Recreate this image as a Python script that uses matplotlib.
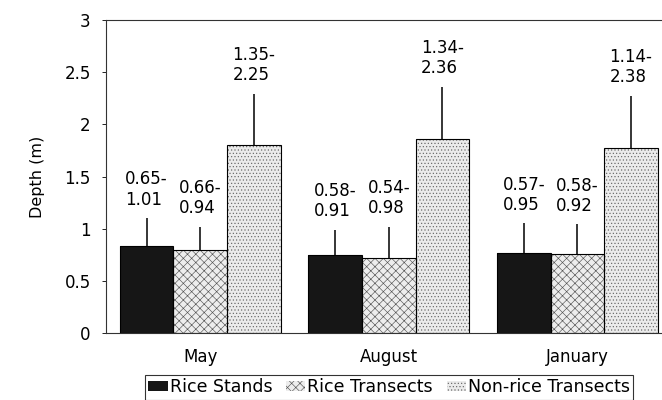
import numpy as np
import matplotlib
matplotlib.use("Agg")
import matplotlib.pyplot as plt

plt.rcParams['font.family'] = ['DejaVu Sans']
plt.rcParams['hatch.linewidth'] = 0.45

months = ['May', 'August', 'January']
series = ['Rice Stands', 'Rice Transects', 'Non-rice Transects']

# mean depth (m) and top of the upper error bar
stands = [0.83, 0.75, 0.77]
stands_top = [1.10, 0.99, 1.05]
transects = [0.80, 0.72, 0.76]
transects_top = [1.02, 1.02, 1.04]
nonrice = [1.80, 1.86, 1.77]
nonrice_top = [2.29, 2.36, 2.27]

# depth ranges printed above each bar
stands_rng = ['0.65-\n1.01', '0.58-\n0.91', '0.57-\n0.95']
transects_rng = ['0.66-\n0.94', '0.54-\n0.98', '0.58-\n0.92']
nonrice_rng = ['1.35-\n2.25', '1.34-\n2.36', '1.14-\n2.38']


def main():
    fig = plt.figure(figsize=(6.62, 4.0), dpi=100)
    ax = fig.add_axes([0.160, 0.1675, 0.840, 0.7825])

    x = np.arange(len(months))
    w = 0.284
    styles = [
        dict(color='#161616', hatchcol='#161616', hatch=None),
        dict(color='#ededed', hatchcol='#555555', hatch='xxxx'),
        dict(color='#ebebeb', hatchcol='#666666', hatch='.....'),
    ]
    vals = [stands, transects, nonrice]
    tops = [stands_top, transects_top, nonrice_top]
    rngs = [stands_rng, transects_rng, nonrice_rng]

    for i, (v, t, r, st) in enumerate(zip(vals, tops, rngs, styles)):
        xs = x + (i - 1) * w
        v = np.array(v)
        t = np.array(t)
        # fill + hatch in a grey tone, then a black outline on top
        ax.bar(xs, v, width=w, color=st['color'], edgecolor=st['hatchcol'],
               hatch=st['hatch'], linewidth=0, label=series[i], zorder=2)
        ax.bar(xs, v, width=w, fill=False, edgecolor='black', linewidth=0.8,
               zorder=2.5)
        ax.errorbar(xs, v, yerr=[np.zeros_like(v), t - v], fmt='none',
                    ecolor='black', elinewidth=1.1, capsize=0, zorder=3)
        for xi, ti, lab in zip(xs, t, r):
            ax.annotate(lab, xy=(xi, ti), xytext=(0, 7), textcoords='offset points',
                        ha='center', va='bottom', multialignment='left',
                        fontsize=12, linespacing=1.15)

    ax.set_xlim(-0.50, 2.449)
    ax.set_ylim(0, 3)
    ax.set_yticks(np.arange(0, 3.01, 0.5))
    ax.set_yticklabels(['0', '0.5', '1', '1.5', '2', '2.5', '3'])
    ax.set_xticks(x)
    ax.set_xticklabels(months)
    ax.tick_params(axis='x', length=0, pad=11, labelsize=12)
    ax.tick_params(axis='y', length=3, width=0.6, labelsize=12, pad=8)
    ax.set_ylabel('Depth (m)', fontsize=11.5, labelpad=14)
    for s in ['top', 'left', 'bottom']:
        ax.spines[s].set_linewidth(0.8)
        ax.spines[s].set_color('#333333')
    ax.spines['top'].set_linestyle((0, (4, 1)))
    ax.spines['left'].set_linestyle((0, (4, 1)))
    ax.spines['right'].set_visible(False)

    leg = fig.legend(loc='upper left', bbox_to_anchor=(0.219, 0.0625), ncol=3,
                     fontsize=12.5, frameon=True, fancybox=False,
                     handlelength=1.1, handleheight=0.5, handletextpad=0.12,
                     columnspacing=0.8, borderpad=0.2, borderaxespad=0)
    leg.get_frame().set_edgecolor('black')
    leg.get_frame().set_linewidth(0.8)

    fig.savefig('out.png', dpi=100)


if __name__ == '__main__':
    main()
